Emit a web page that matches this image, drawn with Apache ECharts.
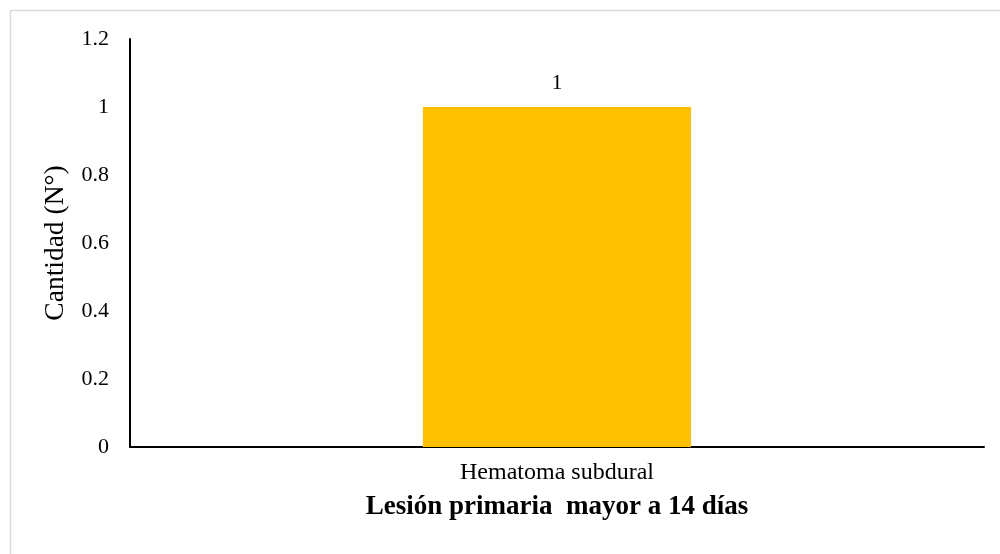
<!DOCTYPE html>
<html>
<head>
<meta charset="utf-8">
<script src="https://cdn.jsdelivr.net/npm/echarts@6/dist/echarts.min.js"></script>
<style>
  html, body { margin: 0; padding: 0; background: #fff; }
  #chart { width: 1000px; height: 554px; }
</style>
</head>
<body>
<div id="chart"></div>
<script>
// Primary lesions older than 14 days
const categories = ['Hematoma subdural'];
const counts = [1];
const yTicks = { min: 0, max: 1.2, interval: 0.2 };
const yAxisTitle = 'Cantidad (N°)';
const xAxisTitle = 'Lesión primaria  mayor a 14 días';

const serif = '"Liberation Serif", "DejaVu Serif", serif';

const chart = echarts.init(document.getElementById('chart'), null, { renderer: 'canvas' });
chart.setOption({
  animation: false,
  backgroundColor: '#ffffff',
  graphic: [{
    type: 'rect',
    left: 8, top: 8,
    shape: { width: 1000, height: 560 },
    style: { fill: 'none', stroke: '#d9d9d9', lineWidth: 1.5 },
    silent: true
  }],
  grid: { left: 130, right: 16, top: 39, bottom: 107 },
  xAxis: {
    type: 'category',
    data: categories,
    name: xAxisTitle,
    nameLocation: 'middle',
    nameGap: 47,
    nameTextStyle: { fontFamily: serif, fontSize: 27, fontWeight: 'bold', color: '#000' },
    axisLine: { lineStyle: { color: '#000', width: 2 } },
    axisTick: { show: false },
    axisLabel: { fontFamily: serif, fontSize: 24, color: '#000', margin: 14 }
  },
  yAxis: {
    type: 'value',
    min: yTicks.min, max: yTicks.max, interval: yTicks.interval,
    name: yAxisTitle,
    nameLocation: 'middle',
    nameGap: 60,
    nameTextStyle: { fontFamily: serif, fontSize: 27.5, color: '#000' },
    axisLine: { show: true, lineStyle: { color: '#000', width: 2 } },
    axisTick: { show: false },
    splitLine: { show: false },
    axisLabel: {
      fontFamily: serif, fontSize: 22, color: '#000', margin: 21,
      formatter: v => String(Math.round(v * 10) / 10)
    }
  },
  series: [{
    type: 'bar',
    data: counts,
    barWidth: '31.4%',
    itemStyle: { color: '#ffc000' },
    label: {
      show: true, position: 'top', distance: 13,
      fontFamily: serif, fontSize: 22, color: '#000'
    }
  }]
});
</script>
</body>
</html>
